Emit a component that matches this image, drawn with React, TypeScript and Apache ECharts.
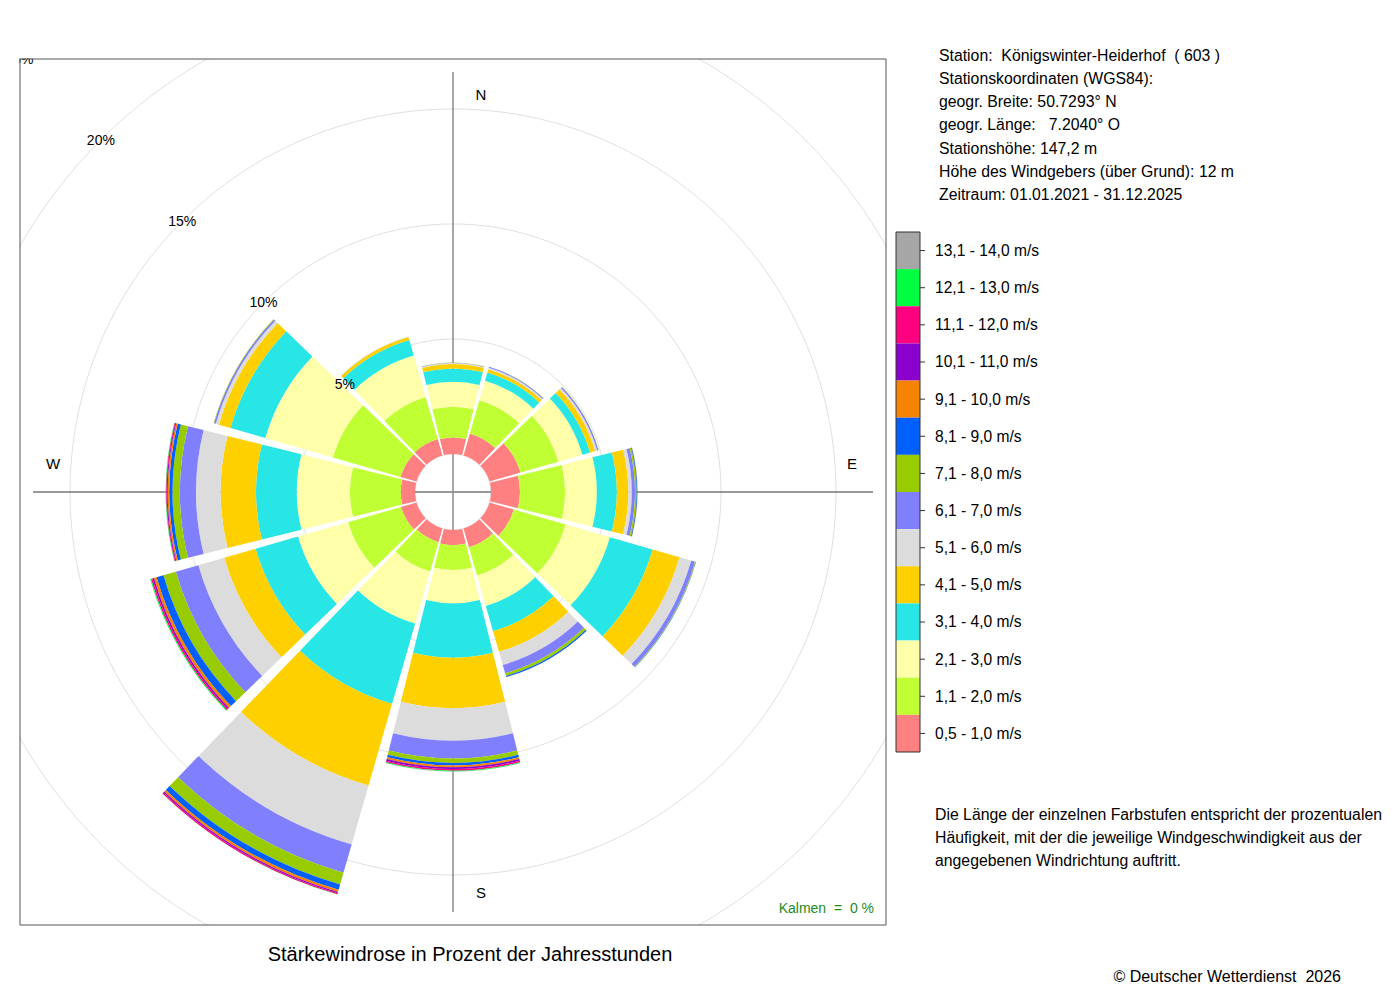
import React, { useEffect, useRef } from 'react';
import * as echarts from 'echarts';

// Wind directions (sector centres, clockwise from north)
const directions = ['0°', '30°', '60°', '90°', '120°', '150°', '180°', '210°', '240°', '270°', '300°', '330°'];

// Speed classes (inner to outer)
const speedClasses = [
  '0,5 - 1,0 m/s', '1,1 - 2,0 m/s', '2,1 - 3,0 m/s', '3,1 - 4,0 m/s', '4,1 - 5,0 m/s',
  '5,1 - 6,0 m/s', '6,1 - 7,0 m/s', '7,1 - 8,0 m/s', '8,1 - 9,0 m/s', '9,1 - 10,0 m/s',
  '10,1 - 11,0 m/s', '11,1 - 12,0 m/s', '12,1 - 13,0 m/s', '13,1 - 14,0 m/s',
];

const classColors = [
  '#FF8080', '#BFFF33', '#FFFFAA', '#28E6E6', '#FFD000', '#DCDCDC', '#8080FF',
  '#99CC00', '#0060FF', '#F58200', '#8C00CC', '#FF0080', '#00FF40', '#A6A6A6',
];

// Percent of hours per direction, one value per speed class
const dir000 = [0.72, 1.33, 1.09, 0.58, 0.19, 0.04, 0.02, 0.01, 0, 0, 0, 0, 0, 0];
const dir030 = [1.0, 1.5, 0.88, 0.37, 0.15, 0.07, 0.04, 0.01, 0, 0, 0, 0, 0, 0];
const dir060 = [1.4, 1.72, 1.08, 0.35, 0.23, 0.09, 0.06, 0.01, 0, 0, 0, 0, 0, 0];
const dir090 = [1.26, 1.96, 1.38, 0.87, 0.5, 0.15, 0.14, 0.07, 0.03, 0.01, 0, 0, 0, 0];
const dir120 = [1.1, 2.35, 2.0, 1.93, 1.22, 0.53, 0.17, 0.03, 0.01, 0, 0, 0, 0, 0];
const dir150 = [0.85, 1.28, 1.37, 1.15, 0.93, 0.59, 0.38, 0.12, 0.05, 0.01, 0, 0, 0, 0];
const dir180 = [0.66, 1.08, 1.45, 2.36, 2.2, 1.41, 0.77, 0.19, 0.11, 0.08, 0.08, 0.07, 0.03, 0.01];
const dir210 = [0.62, 1.33, 2.35, 3.63, 3.7, 2.66, 1.28, 0.53, 0.24, 0.1, 0.06, 0.05, 0.01, 0];
const dir240 = [0.7, 2.4, 2.26, 1.92, 1.42, 1.17, 1.02, 0.56, 0.31, 0.12, 0.07, 0.06, 0.04, 0];
const dir270 = [0.62, 2.21, 2.31, 1.77, 1.54, 1.07, 0.7, 0.32, 0.14, 0.07, 0.04, 0.03, 0.02, 0];
const dir300 = [0.72, 3.06, 3.06, 1.58, 0.52, 0.14, 0.08, 0.02, 0, 0, 0, 0, 0, 0];
const dir330 = [0.75, 1.9, 1.87, 0.7, 0.14, 0.02, 0, 0, 0, 0, 0, 0, 0, 0];

const sectorValues = [dir000, dir030, dir060, dir090, dir120, dir150, dir180, dir210, dir240, dir270, dir300, dir330];

const radiusMax = 25;
const radiusStep = 5;

const compassLabels = [
  { text: 'N', x: 481, y: 94 },
  { text: 'E', x: 852, y: 463 },
  { text: 'S', x: 481, y: 892 },
  { text: 'W', x: 53, y: 463 },
];

const stationInfo = [
  'Station:  Königswinter-Heiderhof  ( 603 )',
  'Stationskoordinaten (WGS84):',
  'geogr. Breite: 50.7293° N',
  'geogr. Länge:   7.2040° O',
  'Stationshöhe: 147,2 m',
  'Höhe des Windgebers (über Grund): 12 m',
  'Zeitraum: 01.01.2021 - 31.12.2025',
];

const noteLines = [
  'Die Länge der einzelnen Farbstufen entspricht der prozentualen',
  'Häufigkeit, mit der die jeweilige Windgeschwindigkeit aus der',
  'angegebenen Windrichtung auftritt.',
];

const titleText = 'Stärkewindrose in Prozent der Jahresstunden';
const calmText = 'Kalmen  =  0 %';
const copyrightText = '© Deutscher Wetterdienst  2026';

const FONT = '"Liberation Sans", Arial, Helvetica, sans-serif';

export default function App() {
  const ref = useRef<HTMLDivElement>(null);

  useEffect(() => {
    document.body.style.margin = '0';
    if (!ref.current) return;
    const chart = echarts.init(ref.current, undefined, { renderer: 'svg' });

    const CX = 453;
    const CY = 492;
    const legendTop = 232;
    const legendLeft = 896;
    const legendItemH = 520 / speedClasses.length;

    const series = speedClasses.map((name, j) => ({
      name,
      type: 'bar',
      coordinateSystem: 'polar',
      polarIndex: 0,
      stack: 'rose',
      barCategoryGap: '7%',
      data: sectorValues.map((s) => s[j]),
      itemStyle: { color: classColors[j] },
      emphasis: { disabled: true },
      silent: true,
      z: 2,
    }));

    const graphics: any[] = [];
    // crosshair
    graphics.push({
      type: 'line', z: 1, silent: true,
      shape: { x1: 33, y1: CY, x2: 873, y2: CY },
      style: { stroke: '#333', lineWidth: 1 },
    });
    graphics.push({
      type: 'line', z: 1, silent: true,
      shape: { x1: CX, y1: 72, x2: CX, y2: 912 },
      style: { stroke: '#8a8a8a', lineWidth: 1.5 },
    });
    // white covers outside the plot box
    const covers = [
      { x: 0, y: 0, width: 1400, height: 58.5 },
      { x: 0, y: 925.5, width: 1400, height: 80 },
      { x: 0, y: 0, width: 19.5, height: 1000 },
      { x: 886.5, y: 0, width: 520, height: 1000 },
    ];
    covers.forEach((c) =>
      graphics.push({ type: 'rect', z: 100, silent: true, shape: c, style: { fill: '#fff' } })
    );
    // plot box
    graphics.push({
      type: 'rect', z: 110, silent: true,
      shape: { x: 20, y: 59, width: 866, height: 866 },
      style: { fill: 'none', stroke: '#555', lineWidth: 1 },
    });
    // legend frame and ticks
    graphics.push({
      type: 'rect', z: 130, silent: true,
      shape: { x: legendLeft, y: legendTop, width: 24, height: legendItemH * speedClasses.length },
      style: { fill: 'none', stroke: '#333', lineWidth: 1 },
    });
    speedClasses.forEach((_, i) => {
      const y = legendTop + legendItemH * (i + 0.5);
      graphics.push({
        type: 'line', z: 130, silent: true,
        shape: { x1: legendLeft + 24, y1: y, x2: legendLeft + 29, y2: y },
        style: { stroke: '#333', lineWidth: 1 },
      });
    });
    // compass labels
    compassLabels.forEach((c) =>
      graphics.push({
        type: 'text', z: 120, silent: true,
        style: { text: c.text, x: c.x, y: c.y, fill: '#000', fontSize: 15, fontFamily: FONT, align: 'center', verticalAlign: 'middle' },
      })
    );
    // station info
    stationInfo.forEach((t, i) =>
      graphics.push({
        type: 'text', z: 120, silent: true,
        style: { text: t, x: 939, y: 55 + i * 23.25, fill: '#000', fontSize: 15.8, fontFamily: FONT, align: 'left', verticalAlign: 'middle' },
      })
    );
    noteLines.forEach((t, i) =>
      graphics.push({
        type: 'text', z: 120, silent: true,
        style: { text: t, x: 935, y: 814 + i * 23, fill: '#000', fontSize: 15.8, fontFamily: FONT, align: 'left', verticalAlign: 'middle' },
      })
    );
    graphics.push({
      type: 'text', z: 120, silent: true,
      style: { text: titleText, x: 470, y: 954, fill: '#000', fontSize: 20, fontFamily: FONT, align: 'center', verticalAlign: 'middle' },
    });
    graphics.push({
      type: 'text', z: 120, silent: true,
      style: { text: copyrightText, x: 1341, y: 976, fill: '#000', fontSize: 16, fontFamily: FONT, align: 'right', verticalAlign: 'middle' },
    });
    graphics.push({
      type: 'text', z: 120, silent: true,
      style: { text: calmText, x: 874, y: 908, fill: '#228B22', fontSize: 14, fontFamily: FONT, align: 'right', verticalAlign: 'middle' },
    });

    const option: any = {
      animation: false,
      backgroundColor: '#fff',
      polar: [
        { center: [CX, CY], radius: [38, 613] },
        { center: [CX, CY], radius: [38, 613] },
        { center: [CX, CY], radius: [38, 613] },
      ],
      angleAxis: [
        {
          polarIndex: 0, type: 'category', data: directions, startAngle: 105, clockwise: true,
          show: false,
        },
        { polarIndex: 1, type: 'value', min: 0, max: 360, startAngle: 135, show: false },
        { polarIndex: 2, type: 'value', min: 0, max: 360, startAngle: 135, show: false },
      ],
      radiusAxis: [
        { polarIndex: 0, type: 'value', min: 0, max: radiusMax, interval: radiusStep, show: false },
        {
          // grid circles, beneath the sectors
          polarIndex: 1, type: 'value', min: 0, max: radiusMax, interval: radiusStep,
          axisLine: { show: false },
          axisTick: { show: false },
          axisLabel: { show: false },
          splitLine: { show: true, lineStyle: { color: '#E0E0E0', width: 1 } },
          z: 0,
        },
        {
          // percent labels, above the sectors
          polarIndex: 2, type: 'value', min: 0, max: radiusMax, interval: radiusStep,
          axisLine: { show: false },
          axisTick: { show: false },
          splitLine: { show: false },
          axisLabel: {
            show: true,
            margin: 0,
            align: 'center',
            verticalAlign: 'middle',
            fontSize: 14,
            color: '#000',
            fontFamily: FONT,
            formatter: (v: number) => (v === 0 ? '' : `${v}%`),
          },
          z: 50,
        },
      ],
      legend: {
        orient: 'vertical',
        left: legendLeft,
        top: legendTop,
        padding: 0,
        itemWidth: 24,
        itemHeight: legendItemH,
        itemGap: 0,
        icon: 'rect',
        selectedMode: false,
        data: [...speedClasses].reverse(),
        textStyle: { fontSize: 15.6, color: '#000', fontFamily: FONT, padding: [0, 0, 0, 10] },
        z: 115,
      },
      tooltip: { show: false },
      series,
      graphic: { elements: graphics },
    };

    chart.setOption(option);
    return () => chart.dispose();
  }, []);

  return <div ref={ref} style={{ width: 1400, height: 1000 }} />;
}
